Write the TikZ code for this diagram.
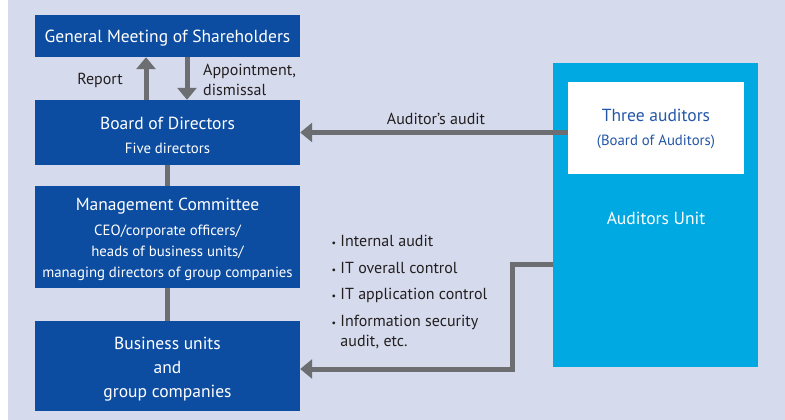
\documentclass[tikz,border=0pt]{standalone}
\usepackage{fontspec}
\setmainfont{PT Sans}
\usepackage{tikz}
\usetikzlibrary{arrows.meta,positioning}
\definecolor{PanelBg}{HTML}{D5DAEC}
\definecolor{BoxBlue}{HTML}{0D4DA1}
\definecolor{UnitCyan}{HTML}{00A9E2}
\definecolor{LineGray}{HTML}{6D6E71}
\definecolor{NameBlue}{HTML}{2557A8}
\definecolor{LabelInk}{HTML}{231F20}
\tikzset{%
  OrgBox/.style={fill=BoxBlue,text=white,minimum width=265pt,inner sep=0pt,
    align=center,font=\fontsize{17.5}{24}\selectfont},
  LabelText/.style={text=LabelInk,inner sep=0pt,font=\fontsize{16}{20}\selectfont},
  FlowLine/.style={draw=LineGray,line width=5pt},
  FlowArrow/.style={FlowLine,-{Triangle[width=19pt,length=12pt]}}
}
\newcommand{\SubLine}[1]{{\fontsize{14.8}{21}\selectfont #1}}
\newcommand{\ListDot}{{\fontsize{10}{10}\selectfont\textbullet}\ }
\newcommand{\TopStrut}[1]{\rule{0pt}{#1}}

\begin{document}
\begin{tikzpicture}[x=1pt,y=-1pt]
  \useasboundingbox (0,0) rectangle (785,420);
  \fill[white] (0,0) rectangle (785,420);
  \fill[PanelBg] (8,0) rectangle (785,420);
  % left column
  \node[OrgBox,minimum height=42pt] (gms) at (167.5,36)
    {\TopStrut{16pt}General Meeting of Shareholders};
  \node[OrgBox,minimum height=65pt] (bod) at (167.5,132.5)
    {\TopStrut{18pt}Board of Directors\\[0pt]\SubLine{Five directors}};
  \node[OrgBox,minimum height=102pt] (mc) at (167.5,237)
    {\TopStrut{18pt}Management Committee\\[1pt]\SubLine{CEO/corporate officers/}\\[-3pt]
     \SubLine{heads of business units/}\\[-3pt]
     \SubLine{managing directors of group companies}};
  \node[OrgBox,minimum height=90pt] (bu) at (167.5,366)
    {\TopStrut{19pt}Business units\\and\\group companies};
  % auditors
  \node[fill=UnitCyan,minimum width=205pt,minimum height=304pt,inner sep=0pt] (unit) at (655.5,215) {};
  \node[fill=white,minimum width=176pt,minimum height=91pt,inner sep=0pt,align=center,
    text=NameBlue,font=\fontsize{17.5}{24}\selectfont] (aud) at (656,128)
    {\TopStrut{15pt}Three auditors\\[0pt]\SubLine{(Board of Auditors)}};
  \node[text=white,font=\fontsize{17.5}{20}\selectfont] (unitname) at (656,218) {Auditors Unit};
  % connectors
  \draw[FlowArrow] ([xshift=-21.5pt]bod.north) -- ([xshift=-21.5pt]gms.south);
  \draw[FlowArrow] ([xshift=19.5pt]gms.south) -- ([xshift=19.5pt]bod.north);
  \draw[FlowLine] (bod) -- (mc);
  \draw[FlowLine] (mc) -- (bu);
  \draw[FlowArrow] (aud.west |- bod.east) -- (bod.east);
  \draw[FlowArrow] (unit.west |- 0,264) -- ++(-40,0) |- ([yshift=-3pt]bu.east);
  % labels
  \node[LabelText] (report) at (100,80) {Report};
  \node[LabelText,align=left,anchor=west] (appoint) at (203,80) {Appointment,\\dismissal};
  \node[LabelText] (auditlbl) at (436,118.5) {Auditor’s audit};
  \node[LabelText,align=left,anchor=north west,font=\fontsize{16}{26.5}\selectfont] (auditlist) at (331.5,235)
    {\ListDot Internal audit\\\ListDot IT overall control\\\ListDot IT application control\\
     \ListDot Information security\\[-6.5pt]\phantom{\ListDot}audit, etc.};
\end{tikzpicture}
\end{document}
